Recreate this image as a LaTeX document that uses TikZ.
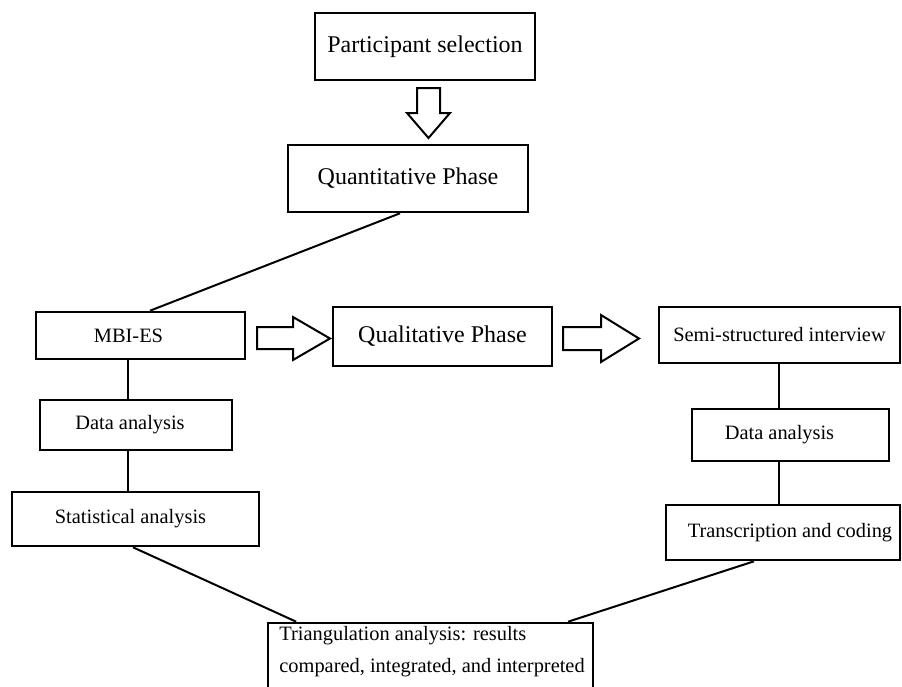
\documentclass[tikz,border=0pt]{standalone}
\usepackage{fontspec}
\setmainfont{Liberation Serif}
\usetikzlibrary{calc}
\begin{document}
\begin{tikzpicture}[x=0.5pt,y=-0.5pt,
  box/.style={draw, line width=1.3pt, inner sep=0pt, anchor=center},
  big/.style={font=\fontsize{12}{14}\selectfont},
  small/.style={font=\fontsize{10.2}{12}\selectfont},
  conn/.style={line width=1pt},
  blockarrow/.style={draw, line width=1pt, fill=white, line join=miter}]
\useasboundingbox (0,0) rectangle (902,687);
\clip (0,0) rectangle (902,687);
\fill[white] (0,0) rectangle (902,687);
% boxes
\node[box, big, minimum width=110pt, minimum height=33.5pt] (ps) at (425,46.5) {Participant selection};
\node[box, big, minimum width=120pt, minimum height=33.5pt] (qt) at (408,178.5) {Quantitative Phase};
\node[box, small, minimum width=104.5pt, minimum height=23.5pt] (mbi) at (140.5,335.5) {\hspace*{-12pt}MBI-ES};
\node[box, big, minimum width=109.5pt, minimum height=29.5pt] (ql) at (442.5,336.5) {Qualitative Phase};
\node[box, small, minimum width=120.5pt, minimum height=28pt] (sm) at (779.5,335) {Semi-structured interview};
\node[box, small, minimum width=96pt, minimum height=25pt] (dl) at (136,425) {\hspace*{-6pt}Data analysis};
\node[box, small, minimum width=123.5pt, minimum height=27pt] (st) at (135.5,519) {\hspace*{-5pt}Statistical analysis};
\node[box, small, minimum width=98.5pt, minimum height=26pt] (dr) at (790.5,435) {\hspace*{-11pt}Data analysis};
\node[box, small, minimum width=117pt, minimum height=27.5pt] (tc) at (783,532.5) {\hspace*{7pt}Transcription and coding};
\node[box, minimum width=162.5pt, minimum height=38.5pt] (tri) at (430.5,661.5) {};
\node[anchor=west, align=left, inner sep=0pt, font=\fontsize{10.2}{16}\selectfont] (tritext) at (279,652)
  {Triangulation analysis: results\\compared, integrated, and interpreted};
% line positions
\coordinate (lxL) at (128,0);
\coordinate (lxR) at (779,0);
% connectors
\draw[conn] ([xshift=-4pt]qt.south) -- ([xshift=4.75pt]mbi.north);
\draw[conn] (mbi.south -| lxL) -- (dl.north -| lxL);
\draw[conn] (dl.south -| lxL) -- (st.north -| lxL);
\draw[conn] (sm.south -| lxR) -- (dr.north -| lxR);
\draw[conn] (dr.south -| lxR) -- (tc.north -| lxR);
\draw[conn] ([xshift=-1.25pt]st.south) -- ($(tri.north west)!0.09!(tri.north east)$);
\draw[conn] ([xshift=-14.5pt]tc.south) -- ($(tri.north west)!0.92!(tri.north east)$);
% block arrows
\draw[blockarrow] (417,88) -- (440,88) -- (440,113) -- (450,113) -- (428.5,138) -- (407,113) -- (417,113) -- cycle;
\draw[blockarrow] (257,327) -- (293,327) -- (293,317) -- (330,338.5) -- (293,360) -- (293,349) -- (257,349) -- cycle;
\draw[blockarrow] (563,327) -- (601,327) -- (601,315) -- (639,338.5) -- (601,362) -- (601,350) -- (563,350) -- cycle;
\end{tikzpicture}
\end{document}
